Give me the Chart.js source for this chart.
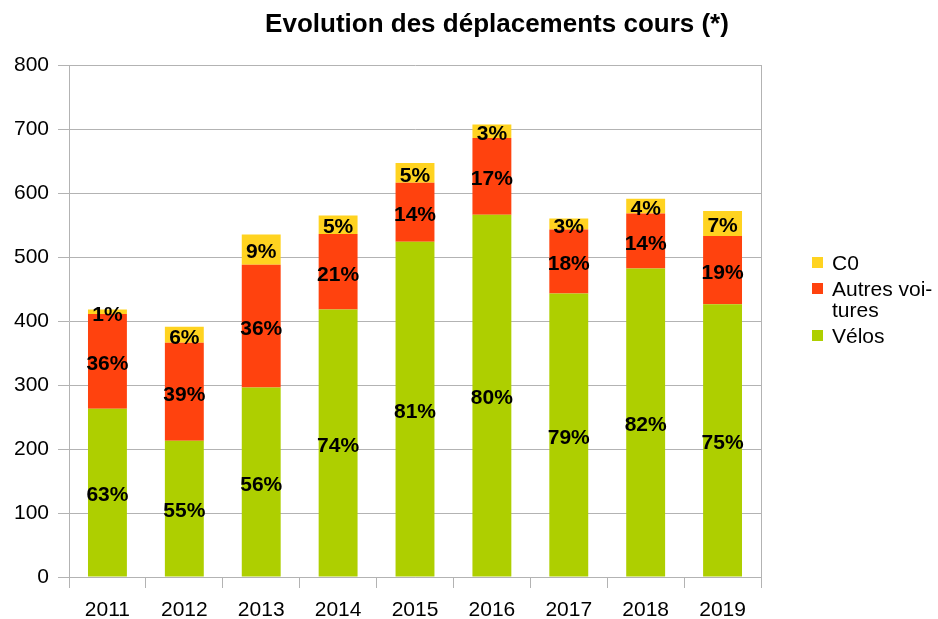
<!DOCTYPE html>
<html>
<head>
<meta charset="utf-8">
<script src="https://cdn.jsdelivr.net/npm/chart.js@4"></script>
<style>
  html, body { margin: 0; padding: 0; background: #fff; }
  #wrap { width: 938px; height: 619px; }
</style>
</head>
<body>
<div id="wrap"><canvas id="barChart"></canvas></div>
<script>
const years = ["2011", "2012", "2013", "2014", "2015", "2016", "2017", "2018", "2019"];
const velos = [263, 213, 296, 418, 524, 566, 443, 482, 426];
const autres = [148, 153, 192, 118, 92, 120, 100, 86, 107];
const c0 = [7, 25, 47, 29, 31, 21, 17, 23, 39];
// percentages as printed on the bars
const velosPct = ["63%", "55%", "56%", "74%", "81%", "80%", "79%", "82%", "75%"];
const autresPct = ["36%", "39%", "36%", "21%", "14%", "17%", "18%", "14%", "19%"];
const c0Pct = ["1%", "6%", "9%", "5%", "5%", "3%", "3%", "4%", "7%"];
const yTicks = [0, 100, 200, 300, 400, 500, 600, 700, 800];

const font = "Liberation Sans, Arial, sans-serif";
const gridColor = "#b3b3b3";

const labelPlugin = {
  id: "pctLabels",
  afterDatasetsDraw(chart) {
    const ctx = chart.ctx;
    ctx.save();
    ctx.font = "bold 21px " + font;
    ctx.fillStyle = "#000";
    ctx.textAlign = "center";
    ctx.textBaseline = "middle";
    chart.data.datasets.forEach((ds, i) => {
      chart.getDatasetMeta(i).data.forEach((el, j) => {
        ctx.fillText(ds.pct[j], el.x, (el.y + el.base) / 2 + 3);
      });
    });
    ctx.restore();
  },
};

const legendLines = { "Autres voitures": ["Autres voi-", "tures"] };
const extrasPlugin = {
  id: "extras",
  beforeDatasetsDraw(chart) {
    // right border of the plot
    const a = chart.chartArea;
    const ctx = chart.ctx;
    ctx.save();
    ctx.strokeStyle = gridColor;
    ctx.lineWidth = 1;
    ctx.beginPath();
    ctx.moveTo(Math.round(a.right) + 0.5, a.top);
    ctx.lineTo(Math.round(a.right) + 0.5, a.bottom);
    ctx.stroke();
    ctx.restore();
  },
  afterDraw(chart) {
    const ctx = chart.ctx;
    ctx.save();
    ctx.fillStyle = "#000";
    ctx.textBaseline = "alphabetic";
    ctx.textAlign = "center";
    ctx.font = "bold 26px " + font;
    ctx.fillText("Evolution des déplacements cours (*)", 497, 32);
    ctx.textAlign = "left";
    ctx.font = "21px " + font;
    let y = 270;
    chart.data.datasets.slice().reverse().forEach((ds) => {
      const lines = legendLines[ds.label] || [ds.label];
      ctx.fillStyle = ds.backgroundColor;
      ctx.fillRect(812, y - 13, 11, 11);
      ctx.fillStyle = "#000";
      lines.forEach((t, k) => ctx.fillText(t, 832, y + k * 21));
      y += (lines.length - 1) * 21 + 26;
    });
    ctx.restore();
  },
};

new Chart(document.getElementById("barChart").getContext("2d"), {
  type: "bar",
  data: {
    labels: years,
    datasets: [
      { label: "Vélos", data: velos, pct: velosPct, backgroundColor: "#aecf00" },
      { label: "Autres voitures", data: autres, pct: autresPct, backgroundColor: "#ff420e" },
      { label: "C0", data: c0, pct: c0Pct, backgroundColor: "#ffd320" },
    ],
  },
  options: {
    responsive: true,
    maintainAspectRatio: false,
    animation: false,
    layout: { padding: { top: 65, right: 177, left: 0, bottom: 0 } },
    datasets: { bar: { categoryPercentage: 1, barPercentage: 0.506 } },
    plugins: { legend: { display: false }, tooltip: { enabled: false } },
    scales: {
      x: {
        stacked: true,
        afterFit: (s) => { s.height = 42; },
        grid: {
          offset: true,
          drawOnChartArea: false,
          tickLength: 11,
          tickColor: gridColor,
        },
        border: { color: gridColor },
        ticks: { color: "#000", font: { family: font, size: 21 }, padding: 10 },
      },
      y: {
        stacked: true,
        min: 0,
        max: 800,
        afterFit: (s) => { s.width = 69; },
        afterBuildTicks: (s) => { s.ticks = yTicks.map((v) => ({ value: v })); },
        grid: { color: gridColor, tickLength: 11, tickColor: gridColor },
        border: { color: gridColor },
        ticks: { color: "#000", font: { family: font, size: 21 }, padding: 9 },
      },
    },
  },
  plugins: [labelPlugin, extrasPlugin],
});
</script>
</body>
</html>
